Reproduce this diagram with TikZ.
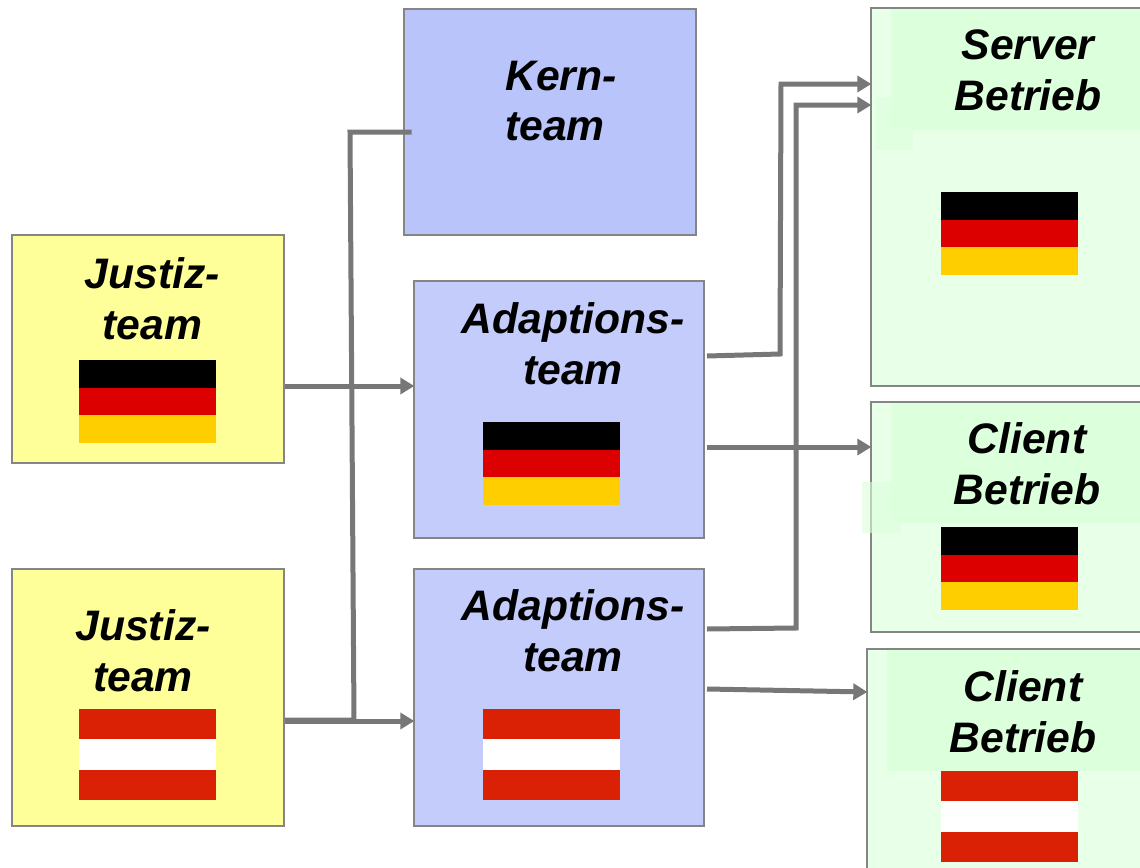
\documentclass[tikz,border=0pt]{standalone}
\usepackage{fontspec}
\setmainfont{Liberation Sans}
\usepackage{tikz}
\usetikzlibrary{arrows.meta}
\definecolor{boxline}{HTML}{858585}
\definecolor{wire}{HTML}{777777}
\definecolor{justizfill}{HTML}{FFFF99}
\definecolor{kernfill}{HTML}{B9C4FA}
\definecolor{adaptfill}{HTML}{C4CCFB}
\definecolor{betriebfill}{HTML}{E8FFE8}
\definecolor{betriebtop}{HTML}{DCFFDC}
\definecolor{flagred}{HTML}{DD0000}
\definecolor{flaggold}{HTML}{FFCE00}
\definecolor{atred}{HTML}{DA2106}
\tikzstyle{teambox} = [rectangle, draw=boxline, line width=1.5pt, inner sep=0pt]
\tikzstyle{teamtext} = [align=center, inner sep=0pt, font=\fontsize{32}{38}\selectfont\bfseries\itshape]
\tikzstyle{wireline} = [draw=wire, line width=3.75pt]
\tikzstyle{arrow} = [wireline, -{Triangle[length=10.5pt,width=12pt]}]
\tikzstyle{patch} = [fill=betriebtop, opacity=0.6]
% flag macros: left, top
\newcommand{\flagDE}[2]{
  \fill [black] (#1,#2) rectangle ++(137,28);
  \fill [flagred] (#1,#2+28) rectangle ++(137,27);
  \fill [flaggold] (#1,#2+55) rectangle ++(137,27.5);
}
\newcommand{\flagAT}[2]{
  \fill [atred] (#1,#2) rectangle ++(137,30);
  \fill [white] (#1,#2+30) rectangle ++(137,31);
  \fill [atred] (#1,#2+61) rectangle ++(137,30);
}
\begin{document}
\begin{tikzpicture}[x=0.75pt,y=-0.75pt]
  \clip (0,0) rectangle (1140,868);
  % boxes
  \node (kern) [teambox, fill=kernfill, minimum width=219pt, minimum height=169.5pt] at (550,122) {};
  \node (justizDE) [teambox, fill=justizfill, minimum width=204pt, minimum height=171pt] at (148,349) {};
  \node (justizAT) [teambox, fill=justizfill, minimum width=204pt, minimum height=192.75pt] at (148,697.5) {};
  \node (adaptDE) [teambox, fill=adaptfill, minimum width=217.5pt, minimum height=192.75pt] at (559,409.5) {};
  \node (adaptAT) [teambox, fill=adaptfill, minimum width=217.5pt, minimum height=192.75pt] at (559,697.5) {};
  \node (server) [teambox, fill=betriebfill, minimum width=225pt, minimum height=283.5pt] at (1021,197) {};
  \node (clientDE) [teambox, fill=betriebfill, minimum width=225pt, minimum height=172.5pt] at (1021,517) {};
  \node (clientAT) [teambox, fill=betriebfill, minimum width=228pt, minimum height=172.5pt] at (1019,764) {};

  % darker title areas
  \fill [betriebtop] (891,9) rectangle (1140,130);
  \fill [patch] (875,97) rectangle (913,150);
  \fill [betriebtop] (891,403) rectangle (1140,523);
  \fill [patch] (862,482) rectangle (901,533);
  \fill [betriebtop] (887,650) rectangle (1140,771);

  % flags
  \flagDE{79}{360}
  \flagAT{79}{709}
  \flagDE{483}{422}
  \flagAT{483}{709}
  \flagDE{941}{192}
  \flagDE{941}{527}
  \flagAT{941}{771}

  % labels
  \node (kernlabel) [teamtext, align=left] at (561,101) {Kern-\\team};
  \node (justizDElabel) [teamtext] at (152.5,298.5) {Justiz-\\team};
  \node (justizATlabel) [teamtext] at (143,650.5) {Justiz-\\team};
  \node (adaptDElabel) [teamtext] at (573,344) {Adaptions-\\team};
  \node (adaptATlabel) [teamtext] at (573,631) {Adaptions-\\team};
  \node (serverlabel) [teamtext] at (1028,70) {Server\\Betrieb};
  \node (clientDElabel) [teamtext] at (1027,464) {Client\\Betrieb};
  \node (clientATlabel) [teamtext] at (1023,711.5) {Client\\Betrieb};

  % connectors
  \draw [arrow] (justizDE.east |- 0,386) -- ([xshift=1pt]adaptDE.west |- 0,386);
  \draw [arrow] (justizAT.east |- 0,721) -- ([xshift=1pt]adaptAT.west |- 0,721);
  \draw [wireline] ([xshift=6.5pt]kern.west |- 0,132) -- (350,132) -- (354,720) -- (justizAT.east |- 0,720);
  \draw [arrow] ([xshift=1.5pt]adaptDE.east |- 0,356) -- (780,354) -- (781,84) -- ([xshift=1pt]server.west |- 0,84);
  \draw [arrow] ([xshift=1.5pt]adaptDE.east |- 0,447) -- ([xshift=1pt]clientDE.west |- 0,447);
  \draw [arrow] ([xshift=1.5pt]adaptAT.east |- 0,629) -- (796,628) -- (796,105) -- ([xshift=1pt]server.west |- 0,105);
  \draw [arrow] ([xshift=1.5pt]adaptAT.east |- 0,689) -- ([xshift=1pt]clientAT.west |- 0,692);
\end{tikzpicture}
\end{document}
